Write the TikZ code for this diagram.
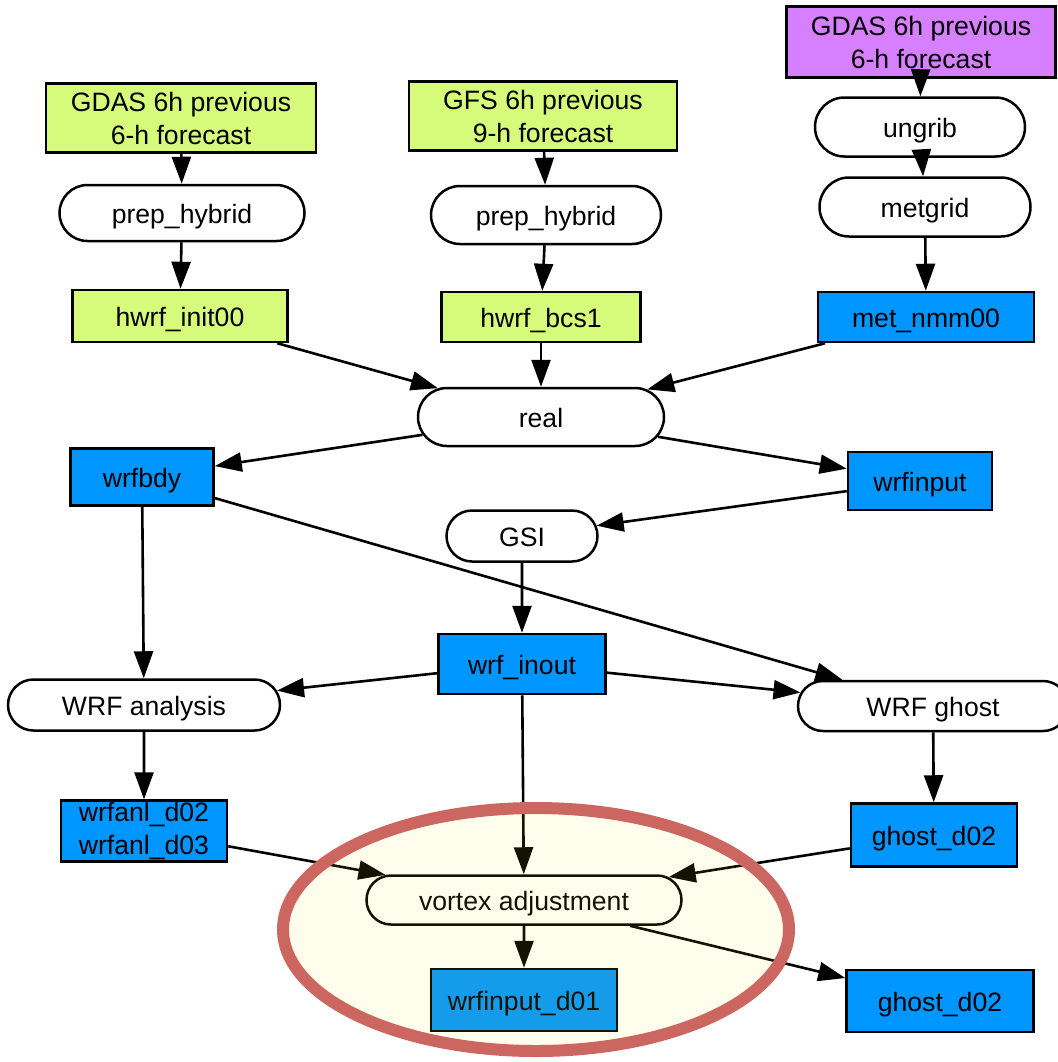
\documentclass[tikz,border=0pt]{standalone}
\usepackage{fontspec}
\setmainfont{Liberation Sans}
\usetikzlibrary{shapes.misc,arrows.meta}

\definecolor{datagreen}{RGB}{214,250,122}
\definecolor{datablue}{RGB}{0,150,255}
\definecolor{datapurple}{RGB}{214,128,255}
\definecolor{ringred}{RGB}{204,102,96}
\definecolor{ringtint}{RGB}{255,230,0}

\tikzset{
  base/.style={draw=black, line width=1.25pt, inner sep=0pt,
    font=\fontsize{13.3}{16.5}\selectfont, align=center,
    text height=10.5pt, text depth=0pt},
  twolines/.style={text height=, text depth=},
  greenbox/.style={base, rectangle, fill=datagreen},
  bluebox/.style={base, rectangle, fill=datablue},
  purplebox/.style={base, rectangle, fill=datapurple},
  proc/.style={base, rounded rectangle, fill=white},
  sz/.style 2 args={minimum width=#1*0.5pt, minimum height=#2*0.5pt},
  flow/.style={line width=1.3pt, -{Triangle[length=13.5pt,width=9.5pt]}},
}

\begin{document}
\begin{tikzpicture}[x=0.5pt, y=-0.5pt]
  \useasboundingbox (0,0) rectangle (1058,1062);

  % left input chain
  \node[greenbox, twolines, sz={270}{69}] (gdasA) at (181,118) {GDAS 6h previous\\6-h forecast};
  \node[proc, sz={245}{56}] (prepA) at (182,213) {prep\_hybrid};
  \node[greenbox, sz={215}{52}] (init) at (180,316) {hwrf\_init00};

  % middle input chain
  \node[greenbox, twolines, sz={268}{69}] (gfs) at (543,116) {GFS 6h previous\\9-h forecast};
  \node[proc, sz={230}{58}] (prepB) at (546,215) {prep\_hybrid};
  \node[greenbox, sz={199}{50}] (bcs) at (541,317) {hwrf\_bcs1};

  % right input chain
  \node[purplebox, twolines, sz={269}{71}] (gdasB) at (921,42) {GDAS 6h previous\\6-h forecast};
  \node[proc, sz={210}{59}] (ungrib) at (920,127) {ungrib};
  \node[proc, sz={211}{59}] (metgrid) at (925,207) {metgrid};
  \node[bluebox, sz={216}{50}] (metnmm) at (926,317) {met\_nmm00};

  % real and its products
  \node[proc, sz={246}{58}] (real) at (541,417) {real};
  \node[bluebox, sz={143}{57}] (wrfbdy) at (142,477) {wrfbdy};
  \node[bluebox, sz={144}{58}] (wrfinput) at (920,481) {wrfinput};
  \node[proc, sz={151}{51}] (gsi) at (522,536) {GSI};
  \node[bluebox, sz={167}{60}] (inout) at (522,664) {wrf\_inout};

  % model runs
  \node[proc, sz={272}{51}] (wrfana) at (144,705) {WRF analysis};
  \node[proc, sz={270}{50}] (wrfghost) at (933,706) {WRF ghost};
  \node[bluebox, twolines, sz={166}{61}] (wrfanl) at (144,831) {wrfanl\_d02\\wrfanl\_d03};
  \node[bluebox, sz={166}{63}] (ghostA) at (934,835) {ghost\_d02};

  % vortex adjustment stage
  \node[proc, sz={315}{49}] (vortex) at (524,900) {vortex adjustment};
  \node[bluebox, sz={186}{62}] (d01) at (524,1000) {wrfinput\_d01};
  \node[bluebox, sz={187}{62}] (ghostB) at (940,1001) {ghost\_d02};

  % connectors
  \draw[flow] (gdasA) -- (prepA);
  \draw[flow] (prepA) -- (init);
  \draw[flow] (gfs) -- (prepB);
  \draw[flow] (prepB) -- (bcs);
  \draw[flow] (gdasB) -- (ungrib);
  \draw[flow] (ungrib) -- (metgrid);
  \draw[flow] (metgrid) -- (metnmm);
  \draw[flow] (init) -- (real);
  \draw[flow] (bcs) -- (real);
  \draw[flow] (metnmm) -- (real);
  \draw[flow] (real) -- (wrfbdy);
  \draw[flow] (real) -- (wrfinput);
  \draw[flow] (wrfinput) -- (gsi);
  \draw[flow] (gsi) -- (inout);
  \draw[flow] (wrfbdy) -- (wrfana);
  \draw[flow] (wrfbdy) -- (wrfghost);
  \draw[flow] (inout) -- (wrfana);
  \draw[flow] (inout) -- (wrfghost);
  \draw[flow] (wrfana) -- (wrfanl);
  \draw[flow] (wrfghost) -- (ghostA);
  \draw[flow] (wrfanl) -- (vortex);
  \draw[flow] (inout) -- (vortex);
  \draw[flow] (ghostA) -- (vortex);
  \draw[flow] (vortex) -- (d01);
  \draw[flow] (vortex) -- (ghostB);

  % highlight ring around the vortex adjustment stage
  \path[fill=ringtint, fill opacity=0.08, draw=ringred, line width=6pt]
    (536,929.5) ellipse [x radius=253, y radius=121.5];
\end{tikzpicture}
\end{document}
